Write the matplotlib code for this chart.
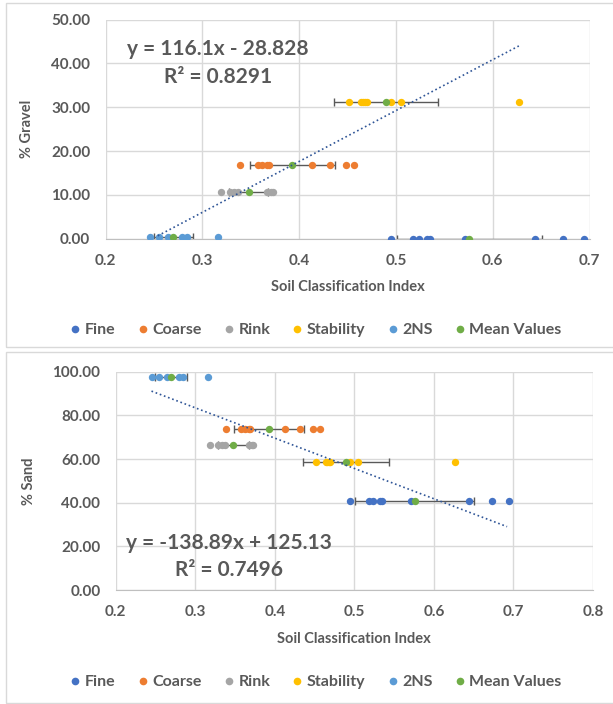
import matplotlib
matplotlib.use("Agg")
import matplotlib.pyplot as plt
from matplotlib.patches import Rectangle
from matplotlib.lines import Line2D

plt.rcParams["font.family"] = ["Lato", "DejaVu Sans"]

# Soil classification index of each sample, per group
fine_sci = [0.495, 0.518, 0.524, 0.532, 0.535, 0.571, 0.644, 0.673, 0.694]
coarse_sci = [0.339, 0.358, 0.362, 0.367, 0.369, 0.413, 0.432, 0.448, 0.457]
rink_sci = [0.319, 0.329, 0.333, 0.337, 0.367, 0.371, 0.373]
stab_sci = [0.452, 0.464, 0.466, 0.468, 0.470, 0.495, 0.505, 0.627]
ns2_sci = [0.246, 0.255, 0.265, 0.279, 0.284, 0.316]

# group percentages
gravel = {"Fine": 0.0, "Coarse": 16.7, "Rink": 10.7, "Stability": 31.2, "2NS": 0.5}
sand = {"Fine": 40.6, "Coarse": 73.9, "Rink": 66.4, "Stability": 58.8, "2NS": 97.4}

# mean values with horizontal error bars
groups = ["Fine", "Coarse", "Rink", "Stability", "2NS"]
mean_sci = [0.576, 0.393, 0.348, 0.490, 0.270]
mean_err = [0.075, 0.044, 0.020, 0.054, 0.020]

# trend lines (slope, intercept, x range)
gravel_fit = (116.1, -28.828, 0.254, 0.627)
sand_fit = (-138.89, 125.13, 0.245, 0.692)

colors = {"Fine": "#4472C4", "Coarse": "#ED7D31", "Rink": "#A5A5A5",
          "Stability": "#FFC000", "2NS": "#5B9BD5", "Mean Values": "#70AD47"}
sci = {"Fine": fine_sci, "Coarse": coarse_sci, "Rink": rink_sci,
       "Stability": stab_sci, "2NS": ns2_sci}

W, H = 613, 704
fig = plt.figure(figsize=(W / 100, H / 100), dpi=100)
txt = "#595959"


def px_axes(left, top, right, bottom):
    return fig.add_axes([left / W, 1 - bottom / H, (right - left) / W, (bottom - top) / H])


def draw(ax, vals, fit, ylabel, xmax, ymax, ystep, eq, r2, eqpos):
    for g in groups:
        ax.plot(sci[g], [vals[g]] * len(sci[g]), "o", ms=5.3, color=colors[g],
                mec="none", zorder=3)
    yv = [vals[g] for g in groups]
    ax.errorbar(mean_sci, yv, xerr=mean_err, fmt="none", ecolor="#595959",
                elinewidth=1, capsize=3, capthick=1, zorder=2)
    ax.plot(mean_sci, yv, "o", ms=5.3, color=colors["Mean Values"], mec="none", zorder=4)
    m, b, x0, x1 = fit
    ax.plot([x0, x1], [m * x0 + b, m * x1 + b], ":", color="#2F5597", lw=1.2, zorder=5)
    ax.set_xlim(0.2, xmax)
    ax.set_ylim(0, ymax)
    xt = [round(0.2 + 0.1 * i, 1) for i in range(int(round((xmax - 0.2) / 0.1)) + 1)]
    ax.set_xticks(xt)
    ax.set_xticklabels([f"{v:g}" for v in xt])
    yt = list(range(0, ymax + 1, ystep))
    ax.set_yticks(yt)
    ax.set_yticklabels([f"{v:.2f}" for v in yt])
    ax.grid(True, color="#D9D9D9", lw=1)
    ax.set_axisbelow(True)
    for s in ["top", "right", "left"]:
        ax.spines[s].set_visible(False)
    ax.spines["bottom"].set_color("#BFBFBF")
    ax.tick_params(length=0, labelsize=11, labelcolor=txt, pad=11)
    for lab in ax.get_xticklabels() + ax.get_yticklabels():
        lab.set_fontweight("bold")
    ax.set_xlabel("Soil Classification Index", fontsize=10.5, color=txt,
                  fontweight="bold", labelpad=9)
    ax.set_ylabel(ylabel, fontsize=10.5, color=txt, fontweight="bold", labelpad=12)
    ax.text(eqpos[0], eqpos[1], eq, fontsize=15, color=txt, fontweight="bold",
            ha="center", va="center", transform=ax.transAxes)
    ax.text(eqpos[0], eqpos[2], r2, fontsize=15, color=txt, fontweight="bold",
            ha="center", va="center", transform=ax.transAxes)


# panel borders
for (t, b) in [(3, 347), (352, 703)]:
    fig.patches.append(Rectangle((6 / W, 1 - b / H), 1, (b - t) / H,
                                 transform=fig.transFigure, fill=False,
                                 edgecolor="#D9D9D9", lw=1))

ax1 = px_axes(105.5, 19.5, 589.5, 238.7)
draw(ax1, gravel, gravel_fit, "% Gravel", 0.7, 50, 10,
     "y = 116.1x - 28.828", "R² = 0.8291", (0.2324, 0.866, 0.738))

ax2 = px_axes(115.7, 371.7, 593, 590)
draw(ax2, sand, sand_fit, "% Sand", 0.8, 100, 20,
     "y = -138.89x + 125.13", "R² = 0.7496", (0.2367, 0.217, 0.092))

handles = [Line2D([], [], ls="none", marker="o", ms=5.5, color=colors[g], mec="none")
           for g in groups + ["Mean Values"]]
labels = groups + ["Mean Values"]
for yc in [330, 682]:
    leg = fig.legend(handles, labels, loc="center", bbox_to_anchor=(0.513, 1 - yc / H),
                     ncol=6, frameon=False, handletextpad=0.1, columnspacing=1.2,
                     handlelength=1.0, prop={"size": 11.5, "weight": "bold"})
    for t in leg.get_texts():
        t.set_color(txt)

fig.savefig("out.png", dpi=100)
